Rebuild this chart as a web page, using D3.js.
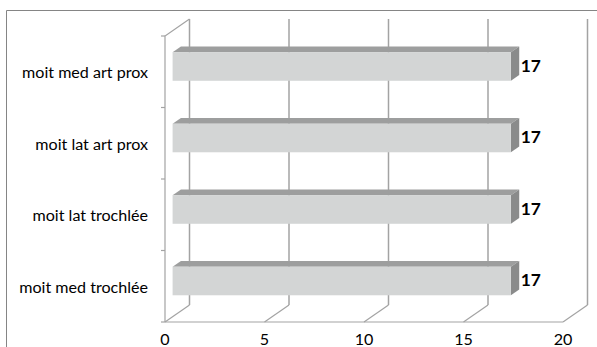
<!DOCTYPE html>
<html>
<head>
<meta charset="utf-8">
<script src="https://cdn.jsdelivr.net/npm/d3@7"></script>
<style>
html,body{margin:0;padding:0;background:#fff;}
svg{display:block;}
text{font-family:Lato,"Open Sans",sans-serif;}
</style>
</head>
<body>
<svg id="chart" width="597" height="347"></svg>
<script>
const categories = ["moit med art prox", "moit lat art prox", "moit lat trochlée", "moit med trochlée"];
const values = [17, 17, 17, 17];
const xTicks = [0, 5, 10, 15, 20];

const svg = d3.select("#chart");
const W = 597, H = 347;

// measure font to mimic Calibri widths
const probe = svg.append("text").attr("font-size", 17).text(categories[0]);
const w17 = probe.node().getComputedTextLength();
probe.remove();
const fs = 17 * 126 / w17;

const x = d3.scaleLinear().domain([0, 20]).range([165, 563]);
const y = d3.scaleBand().domain(categories).range([36, 322]).paddingInner(0.6).paddingOuter(0.3);
const DX = 24.5, DY = -17;           // full depth
const f0 = 0.31, f1 = 0.65;          // bar depth range
const gridC = "#a3a3a3";

// chart border
svg.append("path").attr("d", `M6.5,${H} V10.5 H${W}`).attr("fill", "none")
  .attr("stroke", "#858585").attr("stroke-width", 1);

const g = svg.append("g");
const y0 = 36, y1 = 322;

// back wall gridlines
g.selectAll(".grid").data(xTicks).join("line")
  .attr("x1", d => x(d) + DX).attr("x2", d => x(d) + DX)
  .attr("y1", y0 + DY).attr("y2", y1 + DY)
  .attr("stroke", gridC).attr("stroke-width", 1.5);
// floor diagonals
g.selectAll(".floor").data(xTicks).join("line")
  .attr("x1", d => x(d)).attr("y1", y1)
  .attr("x2", d => x(d) + DX).attr("y2", y1 + DY)
  .attr("stroke", gridC).attr("stroke-width", 1.2);
// front baseline
g.append("line").attr("x1", x(0)).attr("x2", x(20)).attr("y1", y1).attr("y2", y1)
  .attr("stroke", gridC).attr("stroke-width", 1.2);
// left axis + top diagonal
g.append("path").attr("d", `M${x(0) + DX},${y0 + DY} L${x(0)},${y0} V${y1}`)
  .attr("fill", "none").attr("stroke", gridC).attr("stroke-width", 1.2);
// left ticks at band boundaries
const bounds = categories.map(c => y(c) - y.step() * 0.3).concat([y1]);
g.selectAll(".ytick").data(bounds).join("line")
  .attr("x1", x(0) - 4).attr("x2", x(0)).attr("y1", d => d).attr("y2", d => d)
  .attr("stroke", gridC).attr("stroke-width", 1.2);

// bars
const bw = y.bandwidth();
const bars = g.selectAll(".bar").data(categories.map((c, i) => ({c, v: values[i]}))).join("g");
bars.append("polygon") // top face
  .attr("points", d => {
    const xa = x(0), xb = x(d.v), yt = y(d.c);
    return [[xa + DX*f0, yt + DY*f0], [xb + DX*f0, yt + DY*f0], [xb + DX*f1, yt + DY*f1], [xa + DX*f1, yt + DY*f1]].join(" ");
  }).attr("fill", "#9d9e9e");
bars.append("polygon") // right face
  .attr("points", d => {
    const xb = x(d.v), yt = y(d.c);
    return [[xb + DX*f0, yt + DY*f0], [xb + DX*f1, yt + DY*f1], [xb + DX*f1, yt + bw + DY*f1], [xb + DX*f0, yt + bw + DY*f0]].join(" ");
  }).attr("fill", "#8a8b8b");
bars.append("rect") // front face
  .attr("x", d => x(0) + DX*f0).attr("y", d => y(d.c) + DY*f0)
  .attr("width", d => x(d.v) - x(0)).attr("height", bw)
  .attr("fill", "#d3d5d5");
bars.append("text")
  .attr("x", d => x(d.v) + DX*f1 + 1.5)
  .attr("y", d => y(d.c) + bw/2 + DY*f0 + 5.5)
  .attr("font-size", fs * 1.08).attr("font-weight", "bold").attr("fill", "#000")
  .text(d => d.v);

// category labels
g.selectAll(".cat").data(categories).join("text")
  .attr("x", 148).attr("y", d => y(d) + bw/2 + 6.5)
  .attr("text-anchor", "end").attr("font-size", fs).attr("fill", "#000")
  .text(d => d);

// x tick labels
g.selectAll(".xl").data(xTicks).join("text")
  .attr("x", d => x(d)).attr("y", 344.5)
  .attr("text-anchor", "middle").attr("font-size", fs).attr("fill", "#000")
  .text(d => d);
</script>
</body>
</html>
